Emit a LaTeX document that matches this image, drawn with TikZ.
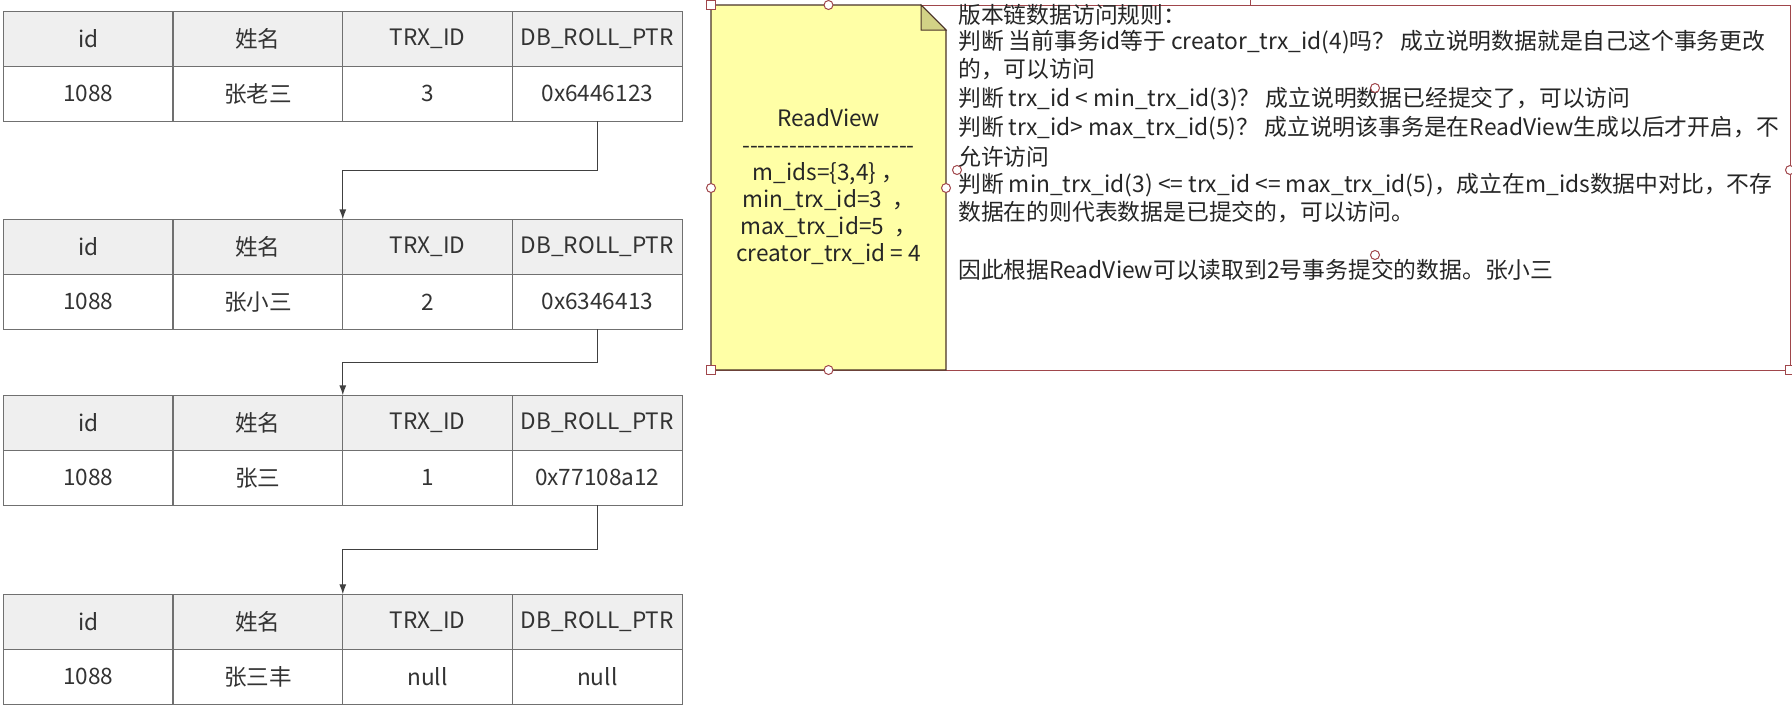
\documentclass[tikz,border=0pt]{standalone}
\usepackage{fontspec}
\setmainfont{Noto Sans CJK SC}
\usetikzlibrary{positioning,calc}
\usetikzlibrary{arrows.meta}
\definecolor{headgray}{HTML}{EFEFEF}
\definecolor{gridgray}{HTML}{707070}
\definecolor{notefill}{HTML}{FFFFA6}
\definecolor{notefold}{HTML}{D2D286}
\definecolor{noteedge}{HTML}{4A3328}
\definecolor{selred}{HTML}{A0464B}
\newcommand\dashrow{\foreach\i in {1,...,22}{-\kern0pt}}
\tikzset{>=latex}

\begin{document}
\begin{tikzpicture}[x=1pt,y=-1pt,
  cell/.style={draw=gridgray, line width=1.3pt, minimum width=169.7pt,
    minimum height=55pt, inner sep=0pt, outer sep=0pt,
    font=\fontsize{22.6}{26}\selectfont, text=black!80},
  headcell/.style={cell, fill=headgray, anchor=north west},
  datacell/.style={cell, fill=white},
  link/.style={-{Latex[length=10pt,width=7pt]}, draw=black!75, line width=1.2pt},
  rule/.style={anchor=west, inner sep=0pt, font=\fontsize{22.8}{26}\selectfont, text=black!85},
  notetext/.style={align=center, inner sep=0pt, font=\fontsize{22.6}{27}\selectfont, text=black!85},
  handle/.style={draw=selred, fill=white, line width=1pt}]

\fill[white] (0,0) rectangle (1792,712);
\useasboundingbox (0,0) rectangle (1792,712);

% ================= Version chain =================
\foreach \tb/\y/\name/\trx/\ptr in {
  1/11.4/张老三/3/0x6446123,
  2/219.4/张小三/2/0x6346413,
  3/395.4/张三/1/0x77108a12,
  4/594.3/张三丰/null/null
}{
  \foreach \c/\h/\v in {1/id/1088, 2/姓名/\name, 3/TRX\_ID/\trx, 4/DB\_ROLL\_PTR/\ptr}{
    \node[headcell] (t\tb h\c) at ({3.4+(\c-1)*169.7},\y) {\h};
    \node[datacell, below=0pt of t\tb h\c] (t\tb d\c) {\v};
  }
}

% roll pointers
\foreach \a/\b in {1/2, 2/3, 3/4}{
  \coordinate (bend\a) at ($(t\a d4.south)!.5!(t\b h3.north west)$);
  \draw[link] (t\a d4.south) |- (bend\a) -| (t\b h3.north west);
}

% ================= Selection =================
\draw[selred, line width=1pt] (711,5) rectangle (1790,370);
\draw[selred, line width=1pt] (1250,0) -- (1250,5);

% ================= ReadView note =================
\draw[noteedge, fill=notefill, line width=1.3pt]
  (711,5) -- (921,5) -- (946,30) -- (946,370) -- (711,370) -- cycle;
\draw[noteedge, fill=notefold, line width=1pt]
  (921,5) -- (921,30) -- (946,30) -- cycle;

\node[notetext] (rv) at (828.5,187) {ReadView\\\dashrow\\m\_ids=\{3,4\} ，\\
  min\_trx\_id=3 \ ，\\max\_trx\_id=5 \ ，\\creator\_trx\_id = 4};

% ================= Access rules =================
\foreach \k/\y/\s in {
  1/15/{版本链数据访问规则：},
  2/42/{判断 当前事务id等于 creator\_trx\_id(4)吗？ 成立说明数据就是自己这个事务更改},
  3/69/{的，可以访问},
  4/99/{判断 trx\_id < min\_trx\_id(3)？ 成立说明数据已经提交了，可以访问},
  5/128/{判断 trx\_id> max\_trx\_id(5)？ 成立说明该事务是在ReadView生成以后才开启，不},
  6/156.5/{允许访问},
  7/185/{判断 min\_trx\_id(3) <= trx\_id <= max\_trx\_id(5)，成立在m\_ids数据中对比，不存},
  8/212.5/{数据在的则代表数据是已提交的，可以访问。},
  9/270/{因此根据ReadView可以读取到2号事务提交的数据。张小三}
}{
  \node[rule] (r\k) at (958,\y) {\s};
}

% handles
\foreach \x/\y in {828.5/5, 711/188, 946/188, 828.5/370, 957/170, 1375/88, 1375/255, 1790/170}{
  \draw[handle] (\x,\y) circle (4.5);
}
\foreach \x/\y in {711/5, 711/370, 1790/370}{
  \draw[handle] (\x-4.5,\y-4.5) rectangle (\x+4.5,\y+4.5);
}
\end{tikzpicture}
\end{document}
